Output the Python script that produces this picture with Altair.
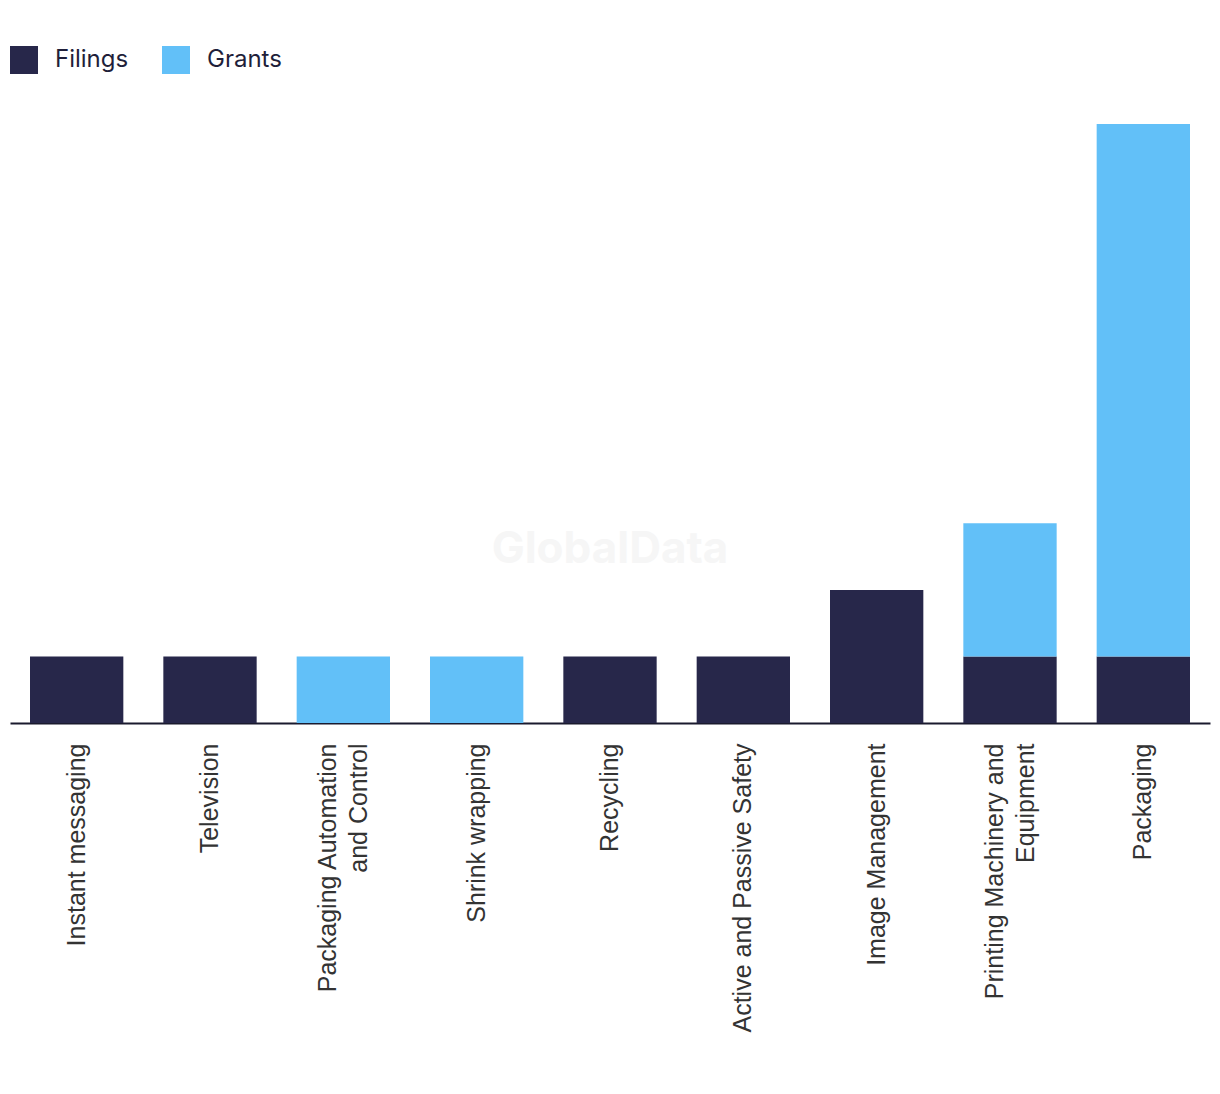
import altair as alt
import pandas as pd

categories = ["Instant messaging", "Television", "Packaging Automation and Control",
              "Shrink wrapping", "Recycling", "Active and Passive Safety",
              "Image Management", "Printing Machinery and Equipment", "Packaging"]
filings = [1, 1, 0, 0, 1, 1, 2, 1, 1]
grants = [0, 0, 1, 1, 0, 0, 0, 2, 8]
series = ["Filings", "Grants"]
colors = ["#27274a", "#62c0f8"]

rows = []
for c, f, g in zip(categories, filings, grants):
    rows.append({"category": c, "series": "Filings", "value": f, "ord": 0})
    rows.append({"category": c, "series": "Grants", "value": g, "ord": 1})
df = pd.DataFrame(rows)

label_expr = ("datum.label == 'Packaging Automation and Control' ? ['Packaging Automation', 'and Control'] : "
              "datum.label == 'Printing Machinery and Equipment' ? ['Printing Machinery and', 'Equipment'] : datum.label")
multi_test = ("datum.value == 'Packaging Automation and Control' || "
              "datum.value == 'Printing Machinery and Equipment'")

bars = alt.Chart(df).mark_bar().encode(
    x=alt.X("category:N", sort=categories, title=None,
            scale=alt.Scale(paddingInner=0.3, paddingOuter=0.15),
            axis=alt.Axis(labelAngle=-90, labelAlign="right", labelBaseline="middle",
                          labelFontSize=25, labelFont="Liberation Sans", labelColor="#333333",
                          labelLineHeight=31, labelPadding=20, ticks=False,
                          labelOffset={"condition": {"test": multi_test, "value": -15}, "value": 0},
                          domainColor="#1a1a2e", domainWidth=2, labelExpr=label_expr,
                          labelLimit=400)),
    y=alt.Y("value:Q", stack="zero", title=None,
            scale=alt.Scale(domain=[0, 9], nice=False),
            axis=None),
    color=alt.Color("series:N", scale=alt.Scale(domain=series, range=colors),
                    legend=alt.Legend(title=None, orient="none", legendX=0, legendY=-78,
                                      direction="horizontal", symbolType="square",
                                      symbolSize=784, symbolStrokeWidth=0,
                                      labelFontSize=24, labelFont="Inter", labelColor="#1f1f3a",
                                      columnPadding=33, labelOffset=17)),
    order=alt.Order("ord:Q"),
)

watermark = alt.Chart(pd.DataFrame({"t": ["GlobalData"]})).mark_text(
    fontSize=44, fontWeight="bold", font="Inter", color="#f6f6f6"
).encode(text="t:N", x=alt.value(600), y=alt.value(426))

chart = alt.layer(watermark, bars).properties(
    width=1200, height=599,
    padding={"left": 2, "top": 116, "right": 2, "bottom": 350},
    autosize=alt.AutoSizeParams(type="none"),
).configure_view(stroke=None)

chart.save("out.html", embed_options={"renderer": "svg", "actions": False})
